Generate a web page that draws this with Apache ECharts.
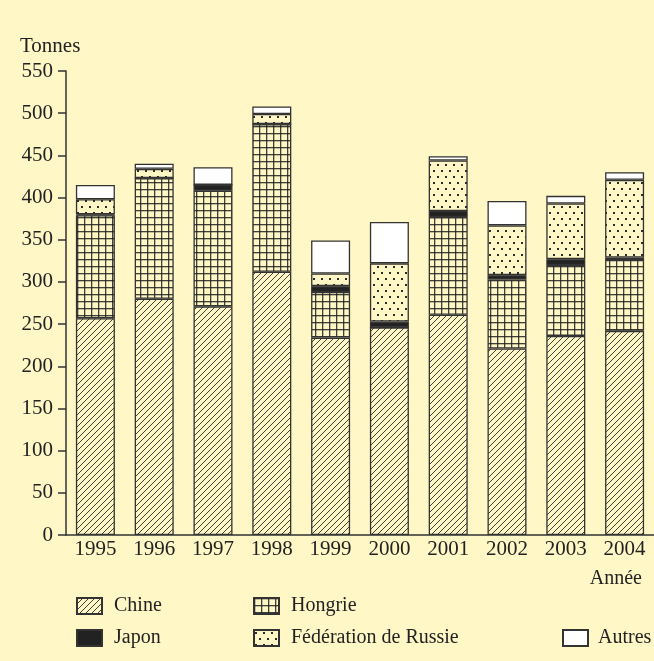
<!DOCTYPE html>
<html>
<head>
<meta charset="utf-8">
<script src="https://cdn.jsdelivr.net/npm/echarts@6/dist/echarts.min.js"></script>
<style>
html,body{margin:0;padding:0;background:#FFF7C6;}
#chart{width:654px;height:661px;}
</style>
</head>
<body>
<div id="chart"></div>
<script>
// ---- data ----
var years = ['1995','1996','1997','1998','1999','2000','2001','2002','2003','2004'];
var chine   = [257, 280, 271, 312, 234, 246, 261, 221, 236, 242];
var hongrie = [122, 143, 137, 175, 54, 0, 116, 82, 84, 84];
var japon   = [1, 0, 7, 0, 7, 7, 7, 5, 7, 3];
var russie  = [18, 11, 0, 12, 15, 69, 60, 59, 66, 92];
var autres  = [17, 6, 21, 9, 39, 49, 5, 29, 9, 9];
var yTicks = {min: 0, max: 550, interval: 50};
var seriesNames = ['Chine', 'Hongrie', 'Japon', 'Fédération de Russie', 'Autres'];

// ---- patterns ----
var BG = '#FFF7C6';
var INK = '#2b2b2b';
function makeCanvas(w, h, draw) {
  var c = document.createElement('canvas');
  c.width = w; c.height = h;
  var ctx = c.getContext('2d');
  ctx.fillStyle = BG; ctx.fillRect(0, 0, w, h);
  draw(ctx, w, h);
  return c;
}
var hatch = makeCanvas(6, 6, function (ctx, w, h) {
  ctx.strokeStyle = INK; ctx.lineWidth = 0.9;
  ctx.beginPath();
  ctx.moveTo(-1, h + 1); ctx.lineTo(w + 1, -1);
  ctx.moveTo(-1, 1); ctx.lineTo(1, -1);
  ctx.moveTo(w - 1, h + 1); ctx.lineTo(w + 1, h - 1);
  ctx.stroke();
});
var gridPat = makeCanvas(7, 7, function (ctx, w, h) {
  ctx.fillStyle = 'rgba(30,30,30,0.85)';
  ctx.fillRect(0, 0, w, 1.3);
  ctx.fillRect(0, 0, 1.3, h);
});
var dots = makeCanvas(8, 12, function (ctx, w, h) {
  ctx.fillStyle = INK;
  ctx.fillRect(1, 2, 2, 2);
  ctx.fillRect(5, 8, 2, 2);
});

var FONT = 'Liberation Serif';
var FS = 21;
var LFS = 20;
var fills = [
  {image: hatch, repeat: 'repeat'},
  {image: gridPat, repeat: 'repeat'},
  '#222222',
  {image: dots, repeat: 'repeat'},
  '#ffffff'
];
var dataArr = [chine, hongrie, japon, russie, autres];

var series = seriesNames.map(function (n, i) {
  return {
    name: n,
    type: 'bar',
    stack: 'total',
    barWidth: 39,
    data: dataArr[i],
    itemStyle: {color: fills[i], borderColor: '#333', borderWidth: 1.3},
    emphasis: {disabled: true},
    animation: false
  };
});

// legend slots: [left, top, text gap] of each swatch
var legendPos = [[76, 596, 7], [253, 596, 7], [76, 628, 7], [253, 628, 7], [562, 628, 5]];
var legends = seriesNames.map(function (n, i) {
  return {
    data: [n],
    left: legendPos[i][0], top: legendPos[i][1],
    icon: 'rect', itemWidth: 25, itemHeight: 16,
    padding: 0,
    selectedMode: false,
    textStyle: {fontFamily: FONT, fontSize: LFS, color: '#222', padding: [0, 0, 0, legendPos[i][2]]}
  };
});

var chart = echarts.init(document.getElementById('chart'));
chart.setOption({
  backgroundColor: BG,
  animation: false,
  grid: {left: 66, right: -2, top: 71, bottom: 126, containLabel: false},
  xAxis: {
    type: 'category',
    data: years,
    axisLine: {lineStyle: {color: '#333', width: 1.5}},
    axisTick: {length: 6, alignWithLabel: false, lineStyle: {color: '#333', width: 1.5}},
    axisLabel: {margin: 4, fontFamily: FONT, fontSize: FS, color: '#222'}
  },
  yAxis: {
    type: 'value',
    min: yTicks.min, max: yTicks.max, interval: yTicks.interval,
    axisLine: {show: true, lineStyle: {color: '#333', width: 1.5}},
    axisTick: {show: true, length: 8, lineStyle: {color: '#333', width: 1.5}},
    axisLabel: {margin: 13, fontFamily: FONT, fontSize: FS, color: '#222'},
    splitLine: {show: false}
  },
  legend: legends,
  graphic: [
    {type: 'text', left: 20, top: 36, style: {text: 'Tonnes', font: FS + 'px "Liberation Serif"', fill: '#222'}},
    {type: 'text', right: 12, top: 569, style: {text: 'Année', font: LFS + 'px "Liberation Serif"', fill: '#222'}}
  ],
  series: series
});
</script>
</body>
</html>
